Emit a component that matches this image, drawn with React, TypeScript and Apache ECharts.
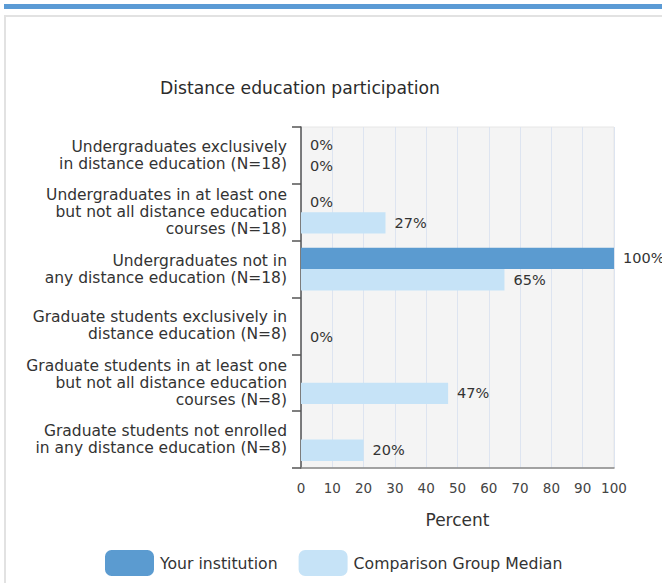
import React, { useEffect, useRef } from "react";
import * as echarts from "echarts";

const categories = [
  "Undergraduates exclusively\nin distance education (N=18)",
  "Undergraduates in at least one\nbut not all distance education\ncourses (N=18)",
  "Undergraduates not in\nany distance education (N=18)",
  "Graduate students exclusively in\ndistance education (N=8)",
  "Graduate students in at least one\nbut not all distance education\ncourses (N=8)",
  "Graduate students not enrolled\nin any distance education (N=8)",
];
const yourInstitution: (number | string)[] = [0, 0, 100, "-", "-", "-"];
const comparisonMedian: number[] = [0, 27, 65, 0, 47, 20];
const xTicks = { min: 0, max: 100, interval: 10 };

const FONT = "DejaVu Sans";

export default function App() {
  const ref = useRef<HTMLDivElement>(null);
  useEffect(() => {
    if (!ref.current) return;
    const chart = echarts.init(ref.current, null, { renderer: "svg" });
    const label = {
      show: true,
      position: "right",
      distance: 9,
      formatter: "{c}%",
      color: "#333",
      fontSize: 14.5,
      fontFamily: FONT,
    };
    chart.setOption({
      animation: false,
      backgroundColor: "#fff",
      textStyle: { fontFamily: FONT },
      title: {
        text: "Distance education participation",
        left: 160,
        top: 79,
        padding: 0,
        textStyle: { fontFamily: FONT, fontSize: 17.2, fontWeight: "normal", color: "#2b2b2b" },
      },
      legend: {
        left: 105,
        top: 550,
        padding: 0,
        itemWidth: 49,
        itemHeight: 26,
        itemGap: 21,
        icon: "roundRect",
        textStyle: { fontFamily: FONT, fontSize: 15.7, color: "#333", padding: [0, 0, 0, 1] },
        data: ["Your institution", "Comparison Group Median"],
      },
      graphic: [
        { type: "rect", shape: { x: 4, y: 4, width: 658, height: 5 }, style: { fill: "#5b9bd5" }, silent: true },
        { type: "rect", shape: { x: 4, y: 15, width: 658, height: 2 }, style: { fill: "#e2e2e2" }, silent: true },
        { type: "rect", shape: { x: 4, y: 15, width: 2, height: 568 }, style: { fill: "#e2e2e2" }, silent: true },
      ],
      grid: {
        left: 301,
        right: 48,
        top: 127,
        bottom: 115,
        show: true,
        backgroundColor: "#f4f4f4",
        borderColor: "#e6e6e6",
        borderWidth: 1,
      },
      xAxis: {
        type: "value",
        min: xTicks.min,
        max: xTicks.max,
        interval: xTicks.interval,
        name: "Percent",
        nameLocation: "middle",
        nameGap: 43,
        nameTextStyle: { fontFamily: FONT, fontSize: 17, color: "#333" },
        axisLine: { show: true, lineStyle: { color: "#888", width: 1.5 } },
        axisTick: { show: false },
        axisLabel: { color: "#444", fontSize: 13.5, fontFamily: FONT, margin: 13 },
        splitLine: { show: true, lineStyle: { color: "#dde4f0", width: 1 } },
      },
      yAxis: {
        type: "category",
        inverse: true,
        data: categories,
        axisLine: { show: true, lineStyle: { color: "#555", width: 1.5 } },
        axisTick: { show: true, length: 9, lineStyle: { color: "#555", width: 1.5 } },
        axisLabel: {
          color: "#333",
          fontSize: 15.5,
          lineHeight: 17,
          fontFamily: FONT,
          margin: 14,
          align: "right",
        },
        splitLine: { show: false },
      },
      series: [
        {
          name: "Your institution",
          type: "bar",
          data: yourInstitution,
          barCategoryGap: "25%",
          barGap: "0%",
          itemStyle: { color: "#5b9bd0" },
          label,
        },
        {
          name: "Comparison Group Median",
          type: "bar",
          data: comparisonMedian,
          barCategoryGap: "25%",
          barGap: "0%",
          itemStyle: { color: "#c6e3f7" },
          label,
        },
      ],
    });
    return () => chart.dispose();
  }, []);
  return (
    <div
      ref={ref}
      style={{ position: "fixed", left: 0, top: 0, width: 662, height: 583 }}
    />
  );
}
